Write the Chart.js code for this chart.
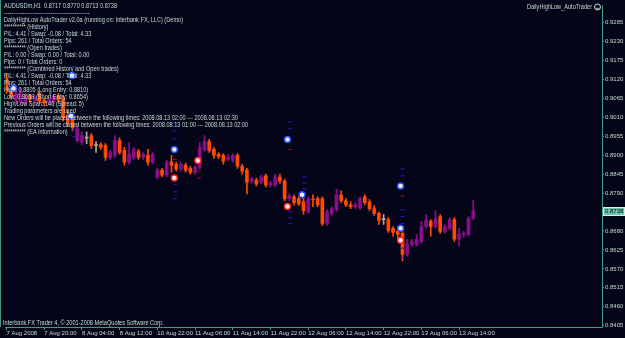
<!DOCTYPE html>
<html>
<head>
<meta charset="utf-8">
<script src="https://cdn.jsdelivr.net/npm/chart.js@4/dist/chart.umd.min.js"></script>
<style>
  html, body { margin: 0; padding: 0; background: #05051a; }
  #wrap { width: 625px; height: 338px; }
</style>
</head>
<body>
<div id="wrap"><canvas id="chart" width="625" height="338"></canvas></div>
<script>
// AUDUSDm H1 bars, 7 Aug 2008 12:00 .. 13 Aug 2008 17:00
const opens = [
  0.9126, 0.9092, 0.9060, 0.9052, 0.9054, 0.9072, 0.9057, 0.9080, 0.9060, 0.9052,
  0.9054, 0.9072, 0.9063, 0.9017, 0.9009, 0.8943, 0.8937, 0.8950, 0.8957, 0.8928,
  0.8931, 0.8928, 0.8894, 0.8900, 0.8943, 0.8914, 0.8880, 0.8894, 0.8911, 0.8894,
  0.8900, 0.8880, 0.8837, 0.8857, 0.8842, 0.8880, 0.8874, 0.8860, 0.8871, 0.8862,
  0.8851, 0.8865, 0.8917, 0.8940, 0.8917, 0.8903, 0.8900, 0.8888, 0.8885, 0.8900,
  0.8868, 0.8857, 0.8825, 0.8828, 0.8822, 0.8840, 0.8814, 0.8814, 0.8837, 0.8825,
  0.8774, 0.8779, 0.8774, 0.8765, 0.8736, 0.8771, 0.8774, 0.8774, 0.8702, 0.8731,
  0.8742, 0.8785, 0.8768, 0.8756, 0.8751, 0.8748, 0.8779, 0.8765, 0.8745, 0.8731,
  0.8713, 0.8713, 0.8688, 0.8679, 0.8673, 0.8613, 0.8642, 0.8642, 0.8650, 0.8693,
  0.8708, 0.8693, 0.8722, 0.8679, 0.8688, 0.8713, 0.8656, 0.8670, 0.8670, 0.8717
];
const highs = [
  0.9137, 0.9100, 0.9092, 0.9095, 0.9080, 0.9077, 0.9074, 0.9086, 0.9066, 0.9069,
  0.9077, 0.9080, 0.9072, 0.9029, 0.9023, 0.8989, 0.8968, 0.8968, 0.8963, 0.8940,
  0.8937, 0.8934, 0.8914, 0.8957, 0.8951, 0.8923, 0.8937, 0.8923, 0.8917, 0.8908,
  0.8917, 0.8908, 0.8862, 0.8862, 0.8885, 0.8900, 0.8880, 0.8880, 0.8877, 0.8868,
  0.8871, 0.8937, 0.8957, 0.8946, 0.8923, 0.8908, 0.8905, 0.8903, 0.8905, 0.8905,
  0.8874, 0.8862, 0.8837, 0.8834, 0.8842, 0.8845, 0.8825, 0.8845, 0.8845, 0.8831,
  0.8788, 0.8785, 0.8779, 0.8785, 0.8779, 0.8785, 0.8779, 0.8779, 0.8742, 0.8751,
  0.8802, 0.8797, 0.8774, 0.8765, 0.8762, 0.8779, 0.8785, 0.8771, 0.8754, 0.8736,
  0.8728, 0.8719, 0.8693, 0.8685, 0.8679, 0.8656, 0.8656, 0.8670, 0.8708, 0.8728,
  0.8713, 0.8739, 0.8728, 0.8699, 0.8719, 0.8719, 0.8688, 0.8679, 0.8722, 0.8770
];
const lows = [
  0.9080, 0.9063, 0.9054, 0.9046, 0.9049, 0.9054, 0.9052, 0.9052, 0.9043, 0.9046,
  0.9049, 0.9052, 0.9000, 0.8983, 0.8971, 0.8937, 0.8931, 0.8934, 0.8920, 0.8908,
  0.8917, 0.8885, 0.8888, 0.8894, 0.8903, 0.8871, 0.8874, 0.8888, 0.8888, 0.8888,
  0.8871, 0.8874, 0.8831, 0.8837, 0.8837, 0.8851, 0.8854, 0.8854, 0.8851, 0.8845,
  0.8845, 0.8860, 0.8911, 0.8908, 0.8891, 0.8891, 0.8874, 0.8885, 0.8880, 0.8862,
  0.8845, 0.8788, 0.8819, 0.8811, 0.8817, 0.8808, 0.8808, 0.8808, 0.8819, 0.8768,
  0.8768, 0.8756, 0.8754, 0.8728, 0.8731, 0.8751, 0.8751, 0.8696, 0.8696, 0.8725,
  0.8736, 0.8762, 0.8751, 0.8745, 0.8745, 0.8742, 0.8756, 0.8739, 0.8725, 0.8699,
  0.8699, 0.8676, 0.8665, 0.8659, 0.8593, 0.8607, 0.8636, 0.8636, 0.8645, 0.8688,
  0.8665, 0.8688, 0.8673, 0.8673, 0.8682, 0.8650, 0.8636, 0.8662, 0.8665, 0.8713
];
const closes = [
  0.9092, 0.9072, 0.9080, 0.9083, 0.9072, 0.9063, 0.9069, 0.9057, 0.9052, 0.9063,
  0.9072, 0.9060, 0.9009, 0.8994, 0.8980, 0.8977, 0.8957, 0.8950, 0.8928, 0.8928,
  0.8923, 0.8894, 0.8908, 0.8943, 0.8908, 0.8880, 0.8903, 0.8917, 0.8894, 0.8903,
  0.8880, 0.8903, 0.8857, 0.8842, 0.8880, 0.8871, 0.8860, 0.8874, 0.8857, 0.8851,
  0.8865, 0.8923, 0.8940, 0.8914, 0.8900, 0.8897, 0.8883, 0.8894, 0.8900, 0.8868,
  0.8854, 0.8822, 0.8831, 0.8817, 0.8837, 0.8814, 0.8819, 0.8837, 0.8825, 0.8774,
  0.8782, 0.8762, 0.8759, 0.8739, 0.8774, 0.8770, 0.8756, 0.8702, 0.8736, 0.8745,
  0.8785, 0.8768, 0.8756, 0.8751, 0.8756, 0.8774, 0.8762, 0.8745, 0.8731, 0.8711,
  0.8713, 0.8682, 0.8676, 0.8670, 0.8613, 0.8642, 0.8650, 0.8656, 0.8693, 0.8711,
  0.8693, 0.8716, 0.8679, 0.8693, 0.8713, 0.8656, 0.8670, 0.8671, 0.8716, 0.8738
];

// time axis: bar index of each label
const xTickBars = [0, 8, 16, 24, 32, 40, 48, 56, 64, 72, 80, 88, 96];
const xTickLabels = ['7 Aug 2008', '7 Aug 20:00', '8 Aug 04:00', '8 Aug 12:00', '10 Aug 22:00',
  '11 Aug 06:00', '11 Aug 14:00', '11 Aug 22:00', '12 Aug 06:00', '12 Aug 14:00',
  '12 Aug 22:00', '13 Aug 06:00', '13 Aug 14:00'];
const yTickLabels = ['0.8405', '0.8460', '0.8515', '0.8570', '0.8625', '0.8680', '0.8735',
  '0.8790', '0.8845', '0.8900', '0.8955', '0.9010', '0.9065', '0.9120', '0.9175', '0.9230', '0.9285'];

// order arrows (bar index, price)
const buyX = [1.5, 13.9, 13.7, 35.6, 59.6, 62.7, 83.6, 83.6];
const buyY = [0.9095, 0.9132, 0.9014, 0.8917, 0.8946, 0.8785, 0.8811, 0.8688];
const sellX = [35.6, 40.6, 59.6, 83.6];
const sellY = [0.8834, 0.8885, 0.8751, 0.8653];

// small level dashes
const blueDashX = [14.3, 14.3, 14.3, 35.7, 35.7, 35.7, 35.7, 35.7, 35.7, 60.2, 60.2, 60.2, 60.2, 60.2,
  63.2, 63.2, 63.2, 84, 84, 84, 84, 84, 84, 84];
const blueDashY = [0.9158, 0.8974, 0.8954, 0.8994, 0.8971, 0.8948, 0.8814, 0.8794, 0.8774, 0.8997, 0.8977, 0.8736, 0.8719, 0.8702,
  0.8837, 0.8819, 0.8802, 0.8860, 0.8840, 0.8742, 0.8722, 0.8702, 0.8630, 0.8602];
const redDashX = [35.7, 40.9, 40.9, 40.9, 60.2, 84];
const redDashY = [0.8888, 0.8914, 0.8854, 0.8834, 0.8917, 0.8782];

const last = opens.length - 1;
const commentLines = [
  'AUDUSDm,H1  ' + [opens[last], highs[last], lows[last], closes[last]].map(v => v.toFixed(4)).join(' '),
  '----------------------------------------------',
  'DailyHighLow AutoTrader v2.0a (running on: Interbank FX, LLC) (Demo)',
  '********** (History)',
  'P/L: 4.41 / Swap: -0.08 / Total: 4.33',
  'Pips: 261 / Total Orders: 54',
  '********** (Open trades)',
  'P/L: 0.00 / Swap: 0.00 / Total: 0.00',
  'Pips: 0 / Total Orders: 0',
  '********** (Combined History and Open trades)',
  'P/L: 4.41 / Swap: -0.08 / Total: 4.33',
  'Pips: 261 / Total Orders: 54',
  'High: 0.8805 (Long Entry: 0.8810)',
  'Low: 0.8659 (Short Entry: 0.8654)',
  'High/Low Span: 146 (Spread: 5)',
  'Trading parameters are used',
  'New Orders will be placed between the following times: 2008.08.13 02:00 --- 2008.08.13 02:30',
  'Previous Orders will be closed between the following times: 2008.08.13 01:00 --- 2008.08.13 02:00',
  '********** (EA information)'
];

const BG = '#05051a', AXIS = '#3c9c80', TEXT = '#c4dccc';
const BULL = '#8a0e8a', BEAR = '#ff4a00', DOJI = '#b4ab94';
const FONT = '"Liberation Sans", Arial, sans-serif';

const colors = opens.map((o, i) => closes[i] > o ? BULL : closes[i] < o ? BEAR : DOJI);
const bodies = opens.map((o, i) => ({ x: i, y: [Math.min(o, closes[i]), Math.max(o, closes[i])] }));
const wicks = opens.map((o, i) => ({ x: i, y: [lows[i], highs[i]] }));
const pts = (xs, ys) => xs.map((x, i) => ({ x: x, y: ys[i] }));

// background, comment text, price label
const overlay = {
  id: 'overlay',
  beforeDraw(chart) {
    const c = chart.ctx;
    c.save();
    c.fillStyle = BG;
    c.fillRect(0, 0, chart.width, chart.height);
    c.restore();
  },
  afterDraw(chart) {
    const c = chart.ctx;
    const area = chart.chartArea;
    c.save();
    c.font = '7px ' + FONT;
    c.textBaseline = 'middle';
    c.fillStyle = TEXT;
    const squeeze = 179 / c.measureText(commentLines[2]).width;
    const put = (txt, x, y, align) => {
      c.save();
      c.translate(x, y);
      c.scale(squeeze, 1);
      c.textAlign = align || 'left';
      c.fillText(txt, 0, 0);
      c.restore();
    };
    commentLines.forEach((line, k) => put(line, 4, 6 + k * 7));
    put('Interbank FX Trader 4, \u00a9 2001-2008 MetaQuotes Software Corp.', 3, 323);
    put('DailyHighLow_AutoTrader', 592, 7, 'right');

    // expert smiley
    c.strokeStyle = TEXT;
    c.lineWidth = 1;
    c.beginPath(); c.arc(597.5, 7, 3, 0, Math.PI * 2); c.stroke();
    c.beginPath(); c.arc(597.5, 7.5, 1.5, 0.2, Math.PI - 0.2); c.stroke();

    // left frame line
    c.strokeStyle = AXIS;
    c.beginPath(); c.moveTo(0.5, 0); c.lineTo(0.5, area.bottom); c.stroke();

    // current price label
    const yp = chart.scales.y.getPixelForValue(closes[last]);
    c.fillStyle = '#6cc8a8';
    c.fillRect(area.right + 1, Math.round(yp) - 4, 22, 9);
    c.strokeStyle = '#d0f4e8';
    c.strokeRect(area.right + 1.5, Math.round(yp) - 3.5, 21, 8);
    c.fillStyle = BG;
    c.font = '6px ' + FONT;
    c.textAlign = 'left';
    c.fillText(closes[last].toFixed(4), area.right + 3, Math.round(yp) + 0.5);
    c.restore();
  }
};

new Chart(document.getElementById('chart'), {
  type: 'bar',
  data: {
    datasets: [
      {
        type: 'scatter', label: 'Buy', data: pts(buyX, buyY), order: 0,
        pointStyle: 'circle', pointRadius: 3, pointBorderWidth: 1.5,
        pointBackgroundColor: '#e8ecff', pointBorderColor: '#2848ff'
      },
      {
        type: 'scatter', label: 'Sell', data: pts(sellX, sellY), order: 0,
        pointStyle: 'circle', pointRadius: 3, pointBorderWidth: 1.5,
        pointBackgroundColor: '#ffe8e8', pointBorderColor: '#ff2020'
      },
      {
        type: 'scatter', label: 'Blue levels', data: pts(blueDashX, blueDashY), order: 1,
        pointStyle: 'line', pointRadius: 2, pointBorderWidth: 1, pointBorderColor: '#1c1cd0'
      },
      {
        type: 'scatter', label: 'Red levels', data: pts(redDashX, redDashY), order: 1,
        pointStyle: 'line', pointRadius: 2, pointBorderWidth: 1, pointBorderColor: '#b01010'
      },
      {
        label: 'Body', data: bodies, order: 2,
        backgroundColor: colors, barThickness: 3, minBarLength: 1, grouped: false
      },
      {
        label: 'Wick', data: wicks, order: 3,
        backgroundColor: colors, barThickness: 1, grouped: false
      }
    ]
  },
  options: {
    responsive: false,
    animation: false,
    layout: { padding: { left: 1, top: 1, right: 0, bottom: 0 } },
    plugins: { legend: { display: false }, tooltip: { enabled: false } },
    scales: {
      x: {
        type: 'linear', position: 'bottom', min: -0.21, max: 126.32, offset: false,
        grid: { drawOnChartArea: false, drawTicks: true, tickLength: 3, color: AXIS, offset: false },
        border: { display: true, color: AXIS, width: 1 },
        afterBuildTicks: s => { s.ticks = xTickBars.map(v => ({ value: v })); },
        afterFit: s => { s.height = 11; },
        ticks: {
          autoSkip: false, maxRotation: 0, align: 'start', padding: 0, color: TEXT,
          font: { family: FONT, size: 6 },
          callback: (v, i) => xTickLabels[i]
        }
      },
      y: {
        type: 'linear', position: 'right', min: 0.84011, max: 0.93351,
        grid: { drawOnChartArea: false, drawTicks: true, tickLength: 2, color: AXIS },
        border: { display: true, color: AXIS, width: 1 },
        afterBuildTicks: s => { s.ticks = yTickLabels.map(t => ({ value: parseFloat(t) })); },
        afterFit: s => { s.width = 23; },
        ticks: {
          autoSkip: false, padding: 1, color: TEXT,
          font: { family: FONT, size: 6 },
          callback: (v, i) => yTickLabels[i]
        }
      }
    }
  },
  plugins: [overlay]
});
</script>
</body>
</html>
